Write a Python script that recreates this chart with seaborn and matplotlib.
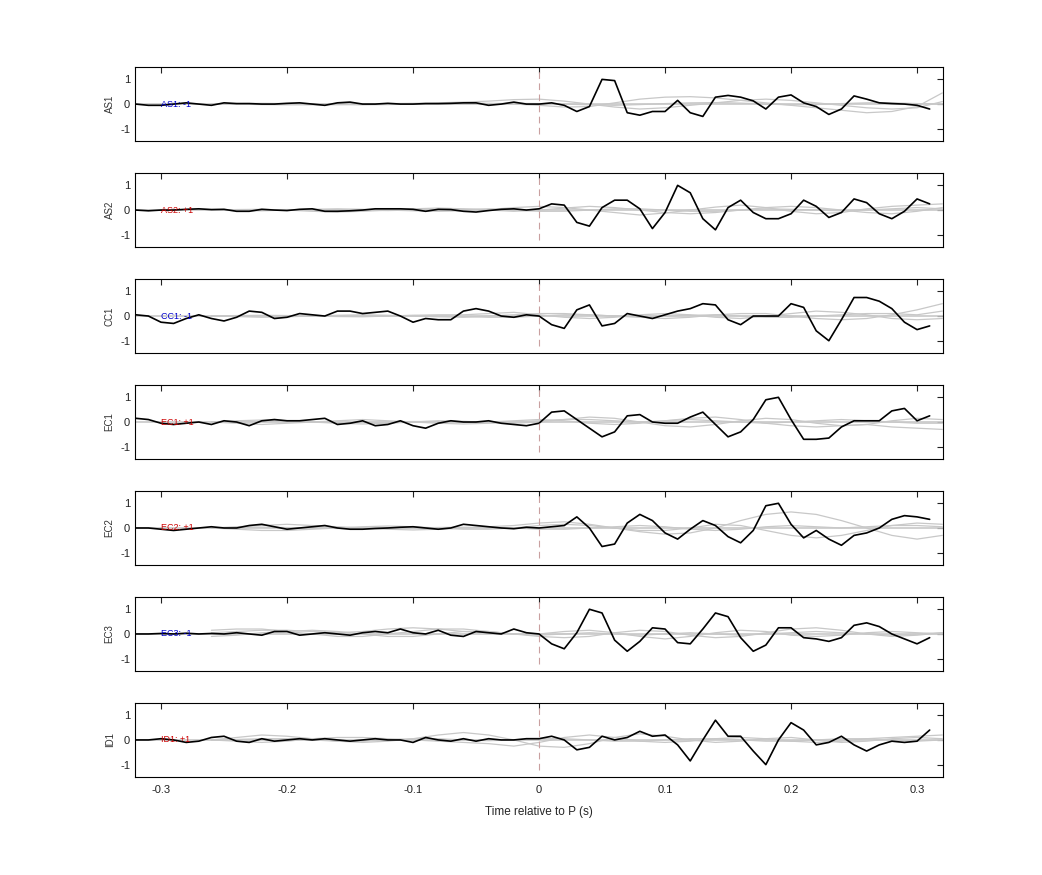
import numpy as np
import matplotlib.pyplot as plt
import seaborn as sns

sns.set_style("white")
plt.rcParams['font.family'] = ['Liberation Sans', 'DejaVu Sans']
plt.rcParams['axes.unicode_minus'] = False

stations = ['AS1', 'AS2', 'CC1', 'EC1', 'EC2', 'EC3', 'ID1']
polarity = ['-1', '+1', '-1', '+1', '+1', '-1', '+1']

# black trace, t = -0.32 .. 0.31 step 0.01
time = np.round(np.arange(-32, 32) * 0.01, 2)
traces = {
    'AS1': [0.0, -0.05, -0.05, 0.0, 0.05, 0.0, -0.05, 0.05, 0.02, 0.02, 0.0, 0.0, 0.03, 0.05, 0.0, -0.05, 0.05, 0.08, 0.0, 0.0, 0.03, 0.0, 0.0, 0.02, 0.02, 0.03, 0.05, 0.05, -0.05, 0.0, 0.08, 0.0,
            0.0, 0.05, -0.05, -0.3, -0.1, 1.0, 0.95, -0.35, -0.45, -0.3, -0.3, 0.15, -0.35, -0.5, 0.28, 0.35, 0.28, 0.13, -0.2, 0.28, 0.37, 0.05, -0.1, -0.42, -0.2, 0.33, 0.2, 0.05, 0.02, 0.0, -0.05, -0.2],
    'AS2': [0.0, -0.03, 0.0, 0.0, 0.03, 0.05, 0.02, 0.03, -0.05, -0.05, 0.03, 0.0, -0.02, 0.03, 0.05, -0.05, -0.05, -0.03, 0.0, 0.05, 0.05, 0.05, 0.03, -0.05, 0.03, 0.02, -0.05, -0.08, -0.02, 0.03, 0.05, 0.0,
            0.05, 0.25, 0.2, -0.5, -0.65, 0.1, 0.4, 0.4, 0.05, -0.75, -0.1, 1.0, 0.7, -0.35, -0.8, 0.1, 0.4, -0.1, -0.35, -0.35, -0.15, 0.4, 0.15, -0.3, -0.1, 0.45, 0.3, -0.15, -0.35, -0.05, 0.45, 0.25],
    'CC1': [0.05, 0.0, -0.25, -0.3, -0.1, 0.05, -0.1, -0.2, -0.05, 0.2, 0.15, -0.1, -0.05, 0.1, 0.05, 0.0, 0.2, 0.2, 0.1, 0.15, 0.2, 0.0, -0.25, -0.1, -0.15, -0.15, 0.2, 0.3, 0.2, 0.0, -0.05, 0.05,
            0.0, -0.35, -0.5, 0.25, 0.45, -0.4, -0.3, 0.1, 0.0, -0.1, 0.05, 0.2, 0.3, 0.5, 0.45, -0.15, -0.35, 0.0, 0.0, 0.0, 0.5, 0.35, -0.6, -1.0, -0.15, 0.75, 0.75, 0.6, 0.3, -0.25, -0.55, -0.4],
    'EC1': [0.15, 0.1, -0.05, -0.1, -0.05, 0.0, -0.1, 0.05, 0.0, -0.15, 0.05, 0.1, 0.05, 0.05, 0.1, 0.15, -0.1, -0.05, 0.05, -0.15, -0.1, 0.05, -0.15, -0.25, -0.05, 0.05, 0.0, 0.0, 0.05, -0.05, -0.1, -0.15,
            -0.05, 0.4, 0.45, 0.1, -0.25, -0.6, -0.4, 0.25, 0.3, 0.0, -0.05, -0.05, 0.2, 0.4, -0.1, -0.6, -0.4, 0.1, 0.9, 1.0, 0.1, -0.7, -0.7, -0.65, -0.2, 0.05, 0.05, 0.05, 0.45, 0.55, 0.05, 0.25],
    'EC2': [0.0, 0.0, -0.05, -0.1, -0.05, 0.0, 0.05, 0.0, 0.0, 0.1, 0.15, 0.05, -0.05, 0.0, 0.05, 0.1, 0.0, -0.05, -0.05, -0.02, 0.0, 0.03, 0.05, 0.0, -0.05, 0.0, 0.15, 0.1, 0.05, 0.0, -0.03, 0.03,
            0.0, 0.05, 0.1, 0.45, 0.0, -0.75, -0.65, 0.2, 0.55, 0.3, -0.2, -0.45, -0.05, 0.3, 0.1, -0.35, -0.6, -0.1, 0.9, 1.0, 0.15, -0.4, -0.1, -0.45, -0.7, -0.3, -0.2, 0.0, 0.35, 0.5, 0.45, 0.35],
    'EC3': [0.0, 0.0, 0.02, 0.0, 0.03, 0.0, 0.02, 0.0, 0.05, 0.0, -0.05, 0.1, 0.1, -0.05, 0.0, 0.05, 0.0, -0.05, 0.05, 0.1, 0.05, 0.2, 0.05, 0.0, 0.15, -0.05, -0.1, 0.1, 0.05, 0.0, 0.2, 0.05,
            0.0, -0.4, -0.6, 0.05, 1.0, 0.85, -0.25, -0.7, -0.3, 0.25, 0.2, -0.35, -0.4, 0.2, 0.85, 0.7, -0.15, -0.7, -0.45, 0.25, 0.25, -0.15, -0.2, -0.3, -0.15, 0.35, 0.45, 0.3, 0.0, -0.2, -0.4, -0.15],
    'ID1': [0.0, 0.0, 0.05, 0.0, -0.1, -0.05, 0.1, 0.15, -0.05, -0.1, 0.05, -0.05, 0.0, 0.05, 0.0, 0.05, 0.0, -0.05, 0.0, 0.05, 0.0, 0.0, -0.1, 0.1, 0.0, -0.05, 0.05, -0.05, 0.05, 0.0, 0.0, 0.05,
            0.05, 0.15, 0.0, -0.4, -0.3, 0.15, 0.0, 0.1, 0.35, 0.15, 0.2, -0.2, -0.85, 0.0, 0.8, 0.15, 0.15, -0.45, -1.0, 0.0, 0.7, 0.4, -0.2, -0.1, 0.15, -0.2, -0.45, -0.2, -0.05, -0.1, -0.05, 0.4],
}

# grey traces, t = -0.26 .. 0.32 step 0.02
gtime = np.round(np.arange(-13, 17) * 0.02, 2)
grey = {
    'AS1': [[0, 0, -0.02, -0.03, -0.03, -0.02, 0, 0.02, 0.03, 0.05, 0.08, 0.12, 0.18, 0.2, 0.12, 0.0, -0.12, -0.2, -0.15, -0.05, 0.05, 0.15, 0.2, 0.15, 0.05, -0.05, -0.15, -0.2, -0.15, 0.1],
            [0, 0.02, 0.03, 0.02, 0, -0.02, -0.03, -0.02, 0, 0.02, 0.05, 0.03, 0.0, -0.05, -0.12, -0.1, 0.05, 0.2, 0.28, 0.3, 0.25, 0.15, 0.05, -0.05, -0.15, -0.25, -0.35, -0.3, -0.1, 0.45],
            [0, 0, 0.01, 0.01, 0, 0, 0, 0.01, 0.01, 0, 0, 0.02, 0.03, 0.02, 0.0, -0.03, -0.05, -0.02, 0.02, 0.05, 0.06, 0.04, 0.0, -0.03, -0.02, 0.02, 0.05, 0.05, 0.02, 0.0]],
    'AS2': [[0, 0.02, 0.03, 0.0, -0.05, -0.08, -0.05, 0.0, 0.05, 0.08, 0.05, 0.0, -0.05, 0.0, 0.08, 0.15, 0.1, 0.0, -0.1, -0.15, -0.1, 0.0, 0.1, 0.15, 0.1, 0.0, -0.1, -0.15, -0.05, 0.1],
            [0, -0.02, -0.03, 0.0, 0.03, 0.05, 0.03, 0.0, -0.03, -0.05, -0.03, 0.02, 0.1, 0.15, 0.1, 0.0, -0.1, -0.2, -0.12, 0.0, 0.12, 0.2, 0.1, -0.05, -0.15, -0.1, 0.05, 0.15, 0.2, 0.25],
            [0, 0, 0.01, 0.02, 0.01, 0, -0.01, -0.02, 0, 0.02, 0.03, 0.05, 0.0, -0.05, -0.05, 0.0, 0.05, 0.05, 0.0, -0.05, -0.05, 0.0, 0.05, 0.03, 0.0, -0.03, 0.0, 0.05, 0.1, 0.05]],
    'CC1': [[0, -0.02, -0.05, -0.03, 0.0, 0.03, 0.05, 0.03, 0.0, -0.03, -0.05, 0.0, 0.05, 0.1, 0.1, 0.05, 0.0, -0.05, -0.1, -0.05, 0.05, 0.1, 0.1, 0.0, -0.1, -0.15, -0.1, 0.05, 0.25, 0.5],
            [0, 0.02, 0.03, 0.02, 0.0, -0.02, -0.03, 0.0, 0.03, 0.05, 0.05, 0.1, 0.15, 0.05, -0.05, -0.1, -0.05, 0.05, 0.1, 0.05, -0.05, -0.1, 0.0, 0.1, 0.2, 0.15, 0.05, -0.1, -0.15, -0.1],
            [0, 0, 0.01, 0.01, 0, -0.01, 0, 0.01, 0.02, 0.0, -0.02, -0.05, -0.05, 0.0, 0.05, 0.05, 0.0, -0.03, 0.0, 0.03, 0.05, 0.0, -0.05, -0.05, 0.0, 0.05, 0.1, 0.1, 0.05, 0.2]],
    'EC1': [[0, 0.05, 0.08, 0.05, 0.0, -0.05, -0.08, -0.05, 0.0, 0.05, 0.03, -0.02, -0.05, 0.0, 0.1, 0.2, 0.15, 0.0, -0.15, -0.2, -0.1, 0.05, 0.15, 0.1, -0.05, -0.15, -0.1, 0.05, 0.15, 0.1],
            [0, -0.05, -0.1, -0.05, 0.0, 0.05, 0.1, 0.05, 0.0, -0.05, -0.08, -0.05, 0.0, 0.05, 0.1, 0.1, 0.05, 0.0, 0.05, 0.15, 0.2, 0.1, -0.05, -0.15, -0.2, -0.15, -0.1, -0.2, -0.25, -0.3],
            [0, 0, 0.02, 0.02, 0, -0.02, -0.02, 0, 0.02, 0.02, 0, 0.0, 0.05, 0.1, 0.05, -0.05, -0.1, -0.05, 0.05, 0.1, 0.05, 0.0, -0.05, 0.0, 0.05, 0.1, 0.05, 0.0, -0.05, -0.05]],
    'EC2': [[0, 0.05, 0.1, 0.15, 0.1, 0.05, 0.0, -0.05, -0.08, -0.05, 0.0, 0.05, 0.1, 0.2, 0.25, 0.15, 0.0, -0.15, -0.25, -0.2, 0.0, 0.3, 0.55, 0.65, 0.55, 0.3, 0.0, -0.3, -0.45, -0.3],
            [0, -0.05, -0.1, -0.1, -0.05, 0.0, 0.05, 0.08, 0.05, 0.0, -0.05, -0.05, 0.0, 0.1, 0.15, 0.1, 0.0, -0.1, -0.1, 0.0, 0.15, 0.1, -0.1, -0.3, -0.4, -0.3, -0.1, 0.1, 0.2, 0.15],
            [0, 0.02, 0.03, 0.02, 0, -0.02, -0.03, -0.02, 0, 0.02, 0.03, 0.02, 0.0, -0.05, -0.05, 0.0, 0.05, 0.1, 0.05, -0.05, -0.1, -0.05, 0.05, 0.1, 0.05, 0.0, 0.05, 0.1, 0.1, 0.05]],
    'EC3': [[0.15, 0.2, 0.2, 0.1, 0.0, -0.1, -0.1, 0.0, 0.1, 0.2, 0.2, 0.1, 0.0, -0.1, -0.15, -0.1, 0.05, 0.15, 0.1, -0.05, -0.15, -0.1, 0.05, 0.2, 0.25, 0.15, 0.0, -0.1, -0.05, 0.05],
            [-0.1, -0.05, 0.05, 0.1, 0.15, 0.1, 0.0, -0.1, -0.1, 0.0, 0.1, 0.1, 0.0, 0.0, 0.1, 0.15, 0.05, -0.1, -0.2, -0.1, 0.05, 0.15, 0.1, -0.05, -0.1, -0.05, 0.05, 0.1, 0.05, 0.0],
            [0.05, 0.1, 0.15, 0.15, 0.1, 0.05, 0.1, 0.2, 0.25, 0.2, 0.1, 0.05, 0.0, -0.05, 0.0, 0.05, 0.0, -0.05, 0.0, 0.05, 0.0, -0.05, 0.0, 0.05, 0.1, 0.05, 0.0, -0.05, 0.0, 0.05]],
    'ID1': [[0.0, 0.1, 0.2, 0.15, 0.05, -0.05, -0.1, -0.05, 0.05, 0.2, 0.3, 0.2, 0.0, -0.25, -0.3, -0.15, 0.1, 0.25, 0.15, 0.0, -0.1, -0.05, 0.05, 0.1, 0.0, -0.1, -0.05, 0.05, 0.1, 0.05],
            [0.0, -0.05, -0.1, -0.05, 0.05, 0.1, 0.1, 0.05, 0.0, -0.05, -0.1, -0.15, -0.25, -0.1, 0.1, 0.2, 0.1, -0.05, -0.1, -0.05, 0.05, 0.1, 0.05, -0.05, -0.1, -0.05, 0.05, 0.1, 0.15, 0.2],
            [0.0, 0.02, 0.05, 0.05, 0.0, -0.05, -0.05, 0.0, 0.05, 0.05, 0.0, -0.03, 0.0, 0.05, 0.05, 0.0, -0.05, -0.05, 0.0, 0.05, 0.05, 0.0, -0.05, -0.05, 0.0, 0.05, 0.05, 0.0, -0.05, 0.0]],
}

fig, axes = plt.subplots(len(stations), 1, figsize=(10.42, 8.75), dpi=100, sharex=True)
fig.subplots_adjust(left=0.1296, right=0.905, top=0.9234, bottom=0.112, hspace=0.43)

for ax, st, pol in zip(axes, stations, polarity):
    for g in grey[st]:
        sns.lineplot(x=gtime, y=g, ax=ax, color='#c8c8c8', linewidth=0.9)
    ax.axhline(0, color='#c8c8c8', linewidth=1.2)
    sns.lineplot(x=time, y=traces[st], ax=ax, color='black', linewidth=1.2)
    ax.axvline(0, ymin=0.1, ymax=1, color='#c9a0a0', linewidth=0.8, dashes=(6, 4))
    col = '#0000cc' if pol == '-1' else '#cc0000'
    ax.text(-0.3, 0, f'{st}: {pol}', color=col, fontsize=6.5, va='center', ha='left')
    ax.set_xlim(-0.3206, 0.3206)
    ax.set_ylim(-1.5, 1.5)
    ax.set_yticks([-1, 0, 1])
    ax.set_ylabel(st, fontsize=7, color='#333333')
    ax.tick_params(direction='in', top=True, right=True, labelsize=8, length=4, colors='#222222')
    for s in ax.spines.values():
        s.set_color('black')
        s.set_linewidth(0.8)

axes[-1].set_xticks([-0.3, -0.2, -0.1, 0, 0.1, 0.2, 0.3])
axes[-1].set_xticklabels(['-0.3', '-0.2', '-0.1', '0', '0.1', '0.2', '0.3'])
axes[-1].tick_params(axis='x', pad=6)
axes[-1].set_xlabel('Time relative to P (s)', fontsize=8.5, labelpad=8)

fig.savefig('out.png', dpi=100)
